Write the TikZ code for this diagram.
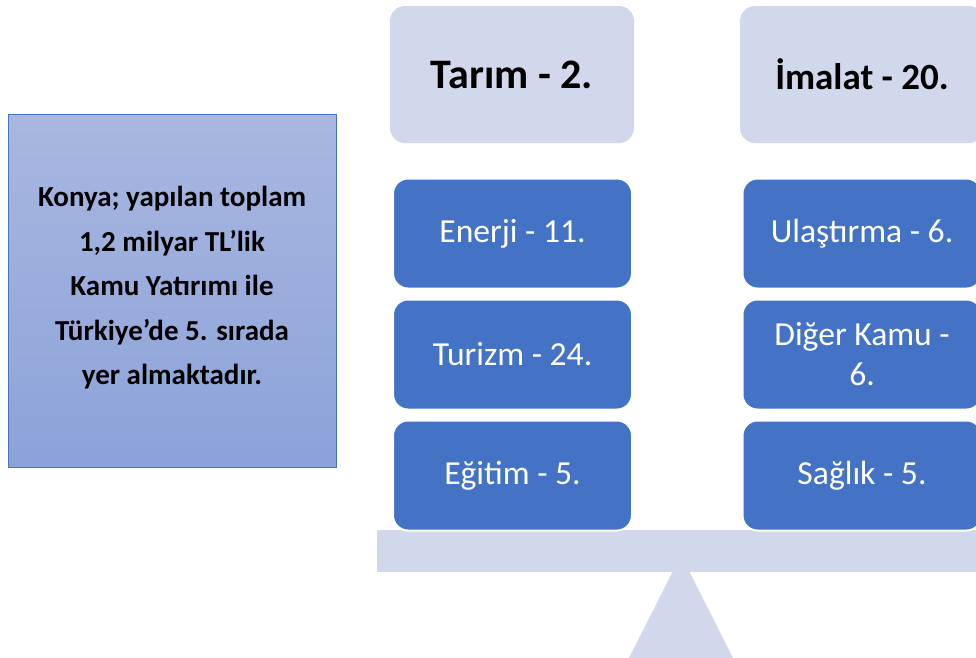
\documentclass[tikz,border=0pt]{standalone}
\usepackage{fontspec}
\setmainfont{Carlito}
\definecolor{lightbox}{HTML}{D2D8EB}
\definecolor{bluebox}{HTML}{4472C4}
\definecolor{gradtop}{HTML}{A9B7E0}
\definecolor{gradbot}{HTML}{8BA2D9}
\tikzset{
  topbox/.style={rectangle, rounded corners=15pt, fill=lightbox, minimum width=244pt, minimum height=137pt, inner sep=0pt,
    font=\fontsize{42}{48}\selectfont\bfseries, text=black},
  itembox/.style={rectangle, rounded corners=15pt, fill=bluebox, draw=white, line width=2pt, minimum width=239pt, minimum height=110pt, inner sep=0pt,
    font=\fontsize{33.6}{40}\selectfont, text=white, align=center},
}
\begin{document}
\begin{tikzpicture}[x=1pt,y=-1pt]
\useasboundingbox (0,0) rectangle (976,657);
\clip (0,0) rectangle (976,657);
% left info box
\shade[top color=gradtop, bottom color=gradbot] (8,114) rectangle (336,467);
\draw[bluebox, line width=1pt] (8,114) rectangle (336,467);
\node[align=center, font=\fontsize{29}{44.5}\selectfont\bfseries, text=black] (info) at (172,288)
  {Konya; yapılan toplam\\1,2 milyar TL’lik\\Kamu Yatırımı ile\\Türkiye’de 5. sırada\\yer almaktadır.};
% beam and fulcrum
\fill[lightbox] (377,530) rectangle (990,572);
\fill[lightbox] (681,555) -- (734,660) -- (628,660) -- cycle;
% top boxes
\node[topbox] (tarim) at (512,74.5) {Tarım - 2.};
\node[topbox, font=\fontsize{37}{44}\selectfont\bfseries] (imalat) at (862,74.5) {\raisebox{-2pt}{İmalat - 20.}};
% item boxes
\node[itembox] (enerji) at (512.5,233.5) {Enerji - 11.};
\node[itembox] (turizm) at (512.5,354.5) {Turizm - 24.};
\node[itembox] (egitim) at (512.5,475.5) {Eğitim - 5.};
\node[itembox] (ulastirma) at (862,233.5) {Ulaştırma - 6.};
\node[itembox] (diger) at (862,354.5) {Diğer Kamu -\\6.};
\node[itembox] (saglik) at (862,475.5) {Sağlık - 5.};
\end{tikzpicture}
\end{document}
